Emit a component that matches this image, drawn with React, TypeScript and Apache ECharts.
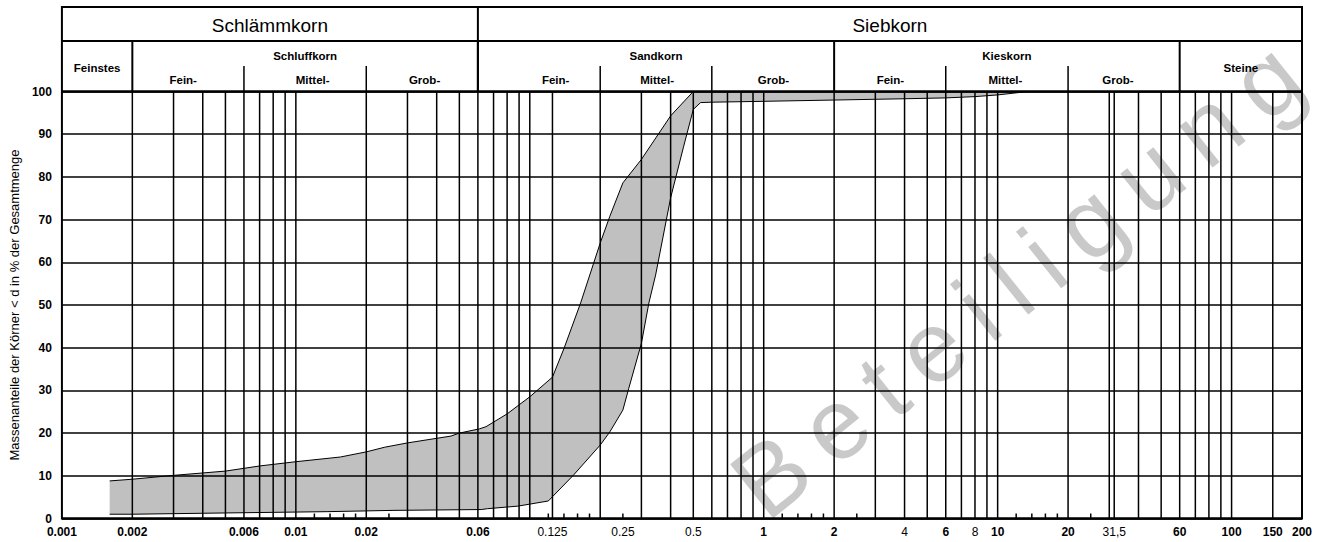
import React, { useEffect, useRef } from "react";
import * as echarts from "echarts";

const FONT = "'Liberation Sans', Arial, Helvetica, sans-serif";

// Upper (fine-grained) boundary of the grading band: grain size d [mm] -> % passing
const upperSize = [0.0016, 0.002, 0.003, 0.005, 0.007, 0.01, 0.0155, 0.02, 0.024, 0.03, 0.046, 0.05, 0.061, 0.065, 0.08, 0.1, 0.125, 0.14, 0.165, 0.2, 0.22, 0.25, 0.3, 0.4, 0.5];
const upperPct = [8.8, 9.2, 10.1, 11.1, 12.3, 13.3, 14.4, 15.6, 16.7, 17.7, 19.3, 20.0, 21.0, 21.5, 24.5, 28.5, 33.1, 39.8, 50.5, 64.5, 70.8, 78.6, 84.1, 94.3, 100];

// Lower (coarse-grained) boundary of the grading band
const lowerSize = [0.0016, 0.002, 0.005, 0.0136, 0.026, 0.062, 0.066, 0.089, 0.12, 0.125, 0.154, 0.2, 0.22, 0.25, 0.265, 0.3, 0.323, 0.345, 0.4, 0.455, 0.5, 0.537, 0.6, 1, 2, 4, 6, 8, 10, 13.5];
const lowerPct = [1.0, 1.0, 1.3, 1.6, 1.9, 2.1, 2.3, 2.9, 4.1, 5.1, 10.2, 17.2, 20.3, 25.4, 30.5, 41, 50.5, 57, 75.1, 87.2, 95.8, 97.4, 97.5, 97.7, 98.0, 98.3, 98.5, 98.8, 99.2, 100];

// Vertical grid lines (full height) and short bottom ticks
const fullLines = [0.002, 0.003, 0.004, 0.005, 0.006, 0.007, 0.008, 0.009, 0.01, 0.02, 0.03, 0.04, 0.05, 0.06, 0.07, 0.08, 0.09, 0.1, 0.125, 0.2, 0.3, 0.4, 0.5, 0.6, 0.7, 0.8, 0.9, 1, 2, 3, 4, 5, 6, 7, 8, 9, 10, 20, 30, 31.5, 40, 50, 60, 70, 80, 90, 100, 150];
const shortTicks = [0.012, 0.014, 0.016, 0.018, 0.025, 0.12, 0.14, 0.16, 0.18, 0.25, 1.2, 1.4, 1.6, 1.8, 2.5, 12, 14, 16, 18, 25];

// X tick labels
const xLabelValues = [0.001, 0.002, 0.006, 0.01, 0.02, 0.06, 0.125, 0.25, 0.5, 1, 2, 4, 6, 8, 10, 20, 31.5, 60, 100, 150, 200];
const xLabelTexts = ["0.001", "0.002", "0.006", "0.01", "0.02", "0.06", "0.125", "0.25", "0.5", "1", "2", "4", "6", "8", "10", "20", "31,5", "60", "100", "150", "200"];
const xLabelBold = [true, true, true, true, true, true, false, false, false, true, true, false, true, false, true, true, false, true, true, true, true];

// Header: main groups
const mainNames = ["Schlämmkorn", "Siebkorn"];
const mainBounds = [0.001, 0.06, 200];
// Header: soil types
const soilNames = ["Feinstes", "Schluffkorn", "Sandkorn", "Kieskorn", "Steine"];
const soilBounds = [0.001, 0.002, 0.06, 2, 60, 200];
const soilHasSub = [false, true, true, true, false];
// Header: sub-fractions
const subNames = ["Fein-", "Mittel-", "Grob-", "Fein-", "Mittel-", "Grob-", "Fein-", "Mittel-", "Grob-"];
const subLabelAt = [0.0033, 0.0118, 0.0355, 0.129, 0.35, 1.1, 3.48, 10.8, 32.7];
const subDividers = [0.006, 0.02, 0.2, 0.6, 6, 20];

const yAxisName = "Massenanteile der Körner < d in % der Gesamtmenge";
const watermark = "Beteiligung";
// approximate advance widths (em) of the watermark glyphs
const glyphWidth: Record<string, number> = { B: 0.667, e: 0.556, t: 0.278, i: 0.222, l: 0.222, g: 0.556, u: 0.556, n: 0.556 };

export default function App() {
  const ref = useRef<HTMLDivElement | null>(null);

  useEffect(() => {
    if (!ref.current) return;
    const chart = echarts.init(ref.current, null, { renderer: "svg" });
    const upper = upperSize.map((d, i) => [d, upperPct[i]]);
    const lower = lowerSize.map((d, i) => [d, lowerPct[i]]);

    // watermark letters placed along a diagonal
    const wmSize = 100;
    const wmGap = 20;
    const wmAngle = (38.6 * Math.PI) / 180;
    let off = 0;
    const wmChildren = watermark.split("").map((c) => {
      const el = {
        type: "text",
        x: off,
        y: 0,
        silent: true,
        style: {
          text: c,
          fontSize: wmSize,
          fontFamily: FONT,
          fontWeight: "normal",
          fill: "#c9c9c9",
          stroke: "#ffffff",
          lineWidth: 4,
          align: "left",
          verticalAlign: "middle",
        },
      };
      off += (glyphWidth[c] || 0.55) * wmSize + wmGap;
      return el;
    });

    const option: any = {
      animation: false,
      backgroundColor: "#ffffff",
      grid: { left: 61, right: 24, top: 91.5, bottom: 23.5, containLabel: false },
      xAxis: {
        type: "log",
        logBase: 10,
        min: 0.001,
        max: 200,
        axisLine: { show: false },
        axisTick: { show: false },
        axisLabel: { show: false },
        splitLine: { show: false },
        minorSplitLine: { show: false },
      },
      yAxis: {
        type: "value",
        min: 0,
        max: 100,
        interval: 10,
        z: 3,
        axisLine: { show: false },
        axisTick: { show: false },
        axisLabel: {
          color: "#000",
          fontFamily: FONT,
          fontSize: 12,
          fontWeight: "bold",
          margin: 10,
          padding: [0, 0, 7, 0],
        },
        splitLine: { show: true, lineStyle: { color: "#000", width: 1.5 } },
        name: yAxisName,
        nameLocation: "middle",
        nameRotate: 90,
        nameGap: 36,
        nameTextStyle: { color: "#000", fontFamily: FONT, fontSize: 13, fontWeight: "normal" },
      },
      graphic: [
        {
          type: "group",
          x: 745,
          y: 496,
          rotation: wmAngle,
          z: 0,
          silent: true,
          children: wmChildren,
        },
      ],
      series: [
        {
          type: "custom",
          name: "band",
          z: 1,
          silent: true,
          data: [[0.01, 50]],
          renderItem: (_p: any, api: any) => {
            const pts = upper.map((p) => api.coord(p)).concat(lower.slice().reverse().map((p) => api.coord(p)));
            return { type: "polygon", shape: { points: pts }, style: { fill: "#c0c0c0", stroke: "none" } };
          },
        },
        {
          type: "custom",
          name: "vgrid",
          z: 3,
          silent: true,
          data: fullLines.map((d) => [d, 0]),
          renderItem: (_p: any, api: any) => {
            const x = api.value(0);
            const a = api.coord([x, 0]);
            const b = api.coord([x, 100]);
            return { type: "line", shape: { x1: a[0], y1: a[1], x2: b[0], y2: b[1] }, style: { stroke: "#000", lineWidth: 1.5 } };
          },
        },
        {
          type: "custom",
          name: "ticks",
          z: 3,
          silent: true,
          data: shortTicks.map((d) => [d, 0]),
          renderItem: (_p: any, api: any) => {
            const a = api.coord([api.value(0), 0]);
            return { type: "line", shape: { x1: a[0], y1: a[1], x2: a[0], y2: a[1] - 5 }, style: { stroke: "#000", lineWidth: 1.5 } };
          },
        },
        {
          type: "custom",
          name: "xlabels",
          z: 3,
          silent: true,
          data: xLabelValues.map((d, i) => [d, 0, i]),
          renderItem: (_p: any, api: any) => {
            const i = api.value(2);
            const a = api.coord([api.value(0), 0]);
            return {
              type: "text",
              x: a[0],
              y: a[1] + 13.5,
              style: {
                text: xLabelTexts[i],
                fill: "#000",
                fontFamily: FONT,
                fontSize: 12,
                fontWeight: xLabelBold[i] ? "bold" : "normal",
                align: "center",
                verticalAlign: "middle",
              },
            };
          },
        },
        {
          type: "line",
          name: "upper",
          z: 4,
          silent: true,
          data: upper,
          symbol: "none",
          lineStyle: { color: "#000", width: 1 },
        },
        {
          type: "line",
          name: "lower",
          z: 4,
          silent: true,
          data: lower,
          symbol: "none",
          lineStyle: { color: "#000", width: 1 },
        },
        {
          type: "custom",
          name: "header",
          z: 5,
          silent: true,
          data: [[0.01, 50]],
          renderItem: (_p: any, api: any) => {
            const X = (d: number) => api.coord([d, 100])[0];
            const yTop = api.coord([1, 100])[1];
            const yBot = api.coord([1, 0])[1];
            const y0 = yTop - 84.5;
            const y1 = yTop - 50.5;
            const y2 = yTop - 25.5;
            const xL = X(0.001);
            const xR = X(200);
            const ch: any[] = [];
            const ln = (x1: number, yA: number, x2: number, yB: number, w: number) =>
              ch.push({ type: "line", shape: { x1, y1: yA, x2, y2: yB }, style: { stroke: "#000", lineWidth: w } });
            const tx = (text: string, x: number, y: number, size: number, weight: string) =>
              ch.push({
                type: "text",
                x,
                y,
                style: { text, fill: "#000", fontFamily: FONT, fontSize: size, fontWeight: weight, align: "center", verticalAlign: "middle" },
              });
            ch.push({ type: "rect", shape: { x: xL, y: y0, width: xR - xL, height: yBot - y0 }, style: { fill: "none", stroke: "#000", lineWidth: 2 } });
            ln(xL, y1, xR, y1, 2);
            ln(xL, yTop, xR, yTop, 2.5);
            ln(xL, yBot, xR, yBot, 2);
            for (let i = 1; i < mainBounds.length - 1; i++) ln(X(mainBounds[i]), y0, X(mainBounds[i]), yTop, 2);
            for (let i = 0; i < mainNames.length; i++) {
              const cx = (X(mainBounds[i]) + X(mainBounds[i + 1])) / 2;
              tx(mainNames[i], cx, y0 + 18, 19, "normal");
            }
            for (let i = 1; i < soilBounds.length - 1; i++) ln(X(soilBounds[i]), y1, X(soilBounds[i]), yTop, 2);
            for (let i = 0; i < soilNames.length; i++) {
              const cx = (X(soilBounds[i]) + X(soilBounds[i + 1])) / 2;
              tx(soilNames[i], cx, soilHasSub[i] ? y1 + 15 : y1 + 26.5, 11.5, "bold");
            }
            for (const d of subDividers) ln(X(d), y2, X(d), yTop, 1.5);
            for (let i = 0; i < subNames.length; i++) tx(subNames[i], X(subLabelAt[i]), y2 + 14, 11.5, "bold");
            return { type: "group", children: ch };
          },
        },
      ],
    };

    chart.setOption(option);
    return () => chart.dispose();
  }, []);

  return (
    <div
      ref={ref}
      style={{ position: "fixed", left: 0, top: 0, width: 1326, height: 542, background: "#fff" }}
    />
  );
}
